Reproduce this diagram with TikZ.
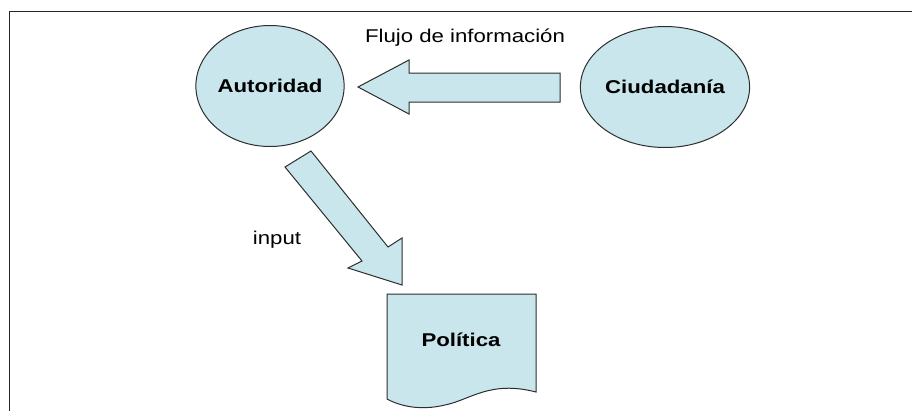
\documentclass[tikz,border=0pt]{standalone}
\usepackage{fontspec}
\usetikzlibrary{shapes.geometric}
\setmainfont{Liberation Sans}
\newfontfamily\labfont[FakeStretch=1.2]{Liberation Sans}
\definecolor{shapefill}{RGB}{200,230,235}
\definecolor{shapeline}{RGB}{45,45,45}
\begin{document}
\begin{tikzpicture}[x=1pt,y=-1pt,
  blob/.style={draw=shapeline,fill=shapefill,line width=1pt},
  ovalnode/.style={blob,ellipse,minimum width=137pt,minimum height=121pt,inner sep=0pt,font=\labfont\fontsize{18.5}{20}\selectfont\bfseries},
  plainlabel/.style={font=\labfont\fontsize{18.5}{20}\selectfont},
  boldlabel/.style={font=\labfont\fontsize{18.5}{20}\selectfont\bfseries}]
\useasboundingbox (0,0) rectangle (912,410);
% frame
\draw[line width=1.6pt,black!85] (9.5,412) -- (9.5,11.5) -- (914,11.5);
% ovals
\node[ovalnode] (aut) at (270,86) {Autoridad};
\node[ovalnode] (ciu) at (665,87) {Ciudadanía};
% horizontal block arrow
\draw[blob,line join=miter] (560,73) -- (409,73) -- (409,60) -- (358,87) -- (409,114) -- (409,102) -- (560,102) -- cycle;
\node[plainlabel] (flujo) at (465,38) {Flujo de información};
% diagonal block arrow
\draw[blob,line join=miter] (285,167) -- (311,151) -- (388,247) -- (402,238) -- (402,285) -- (348,268) -- (362,261) -- cycle;
\node[plainlabel] (inp) at (277,240) {input};
% document shape
\draw[blob] (387,294) -- (536,294) -- (536,392)
  .. controls (490,380) and (470,400) .. (445,405)
  .. controls (420,411) and (400,406) .. (387,399) -- cycle;
\node[boldlabel] (pol) at (461,340) {Política};
\end{tikzpicture}
\end{document}
